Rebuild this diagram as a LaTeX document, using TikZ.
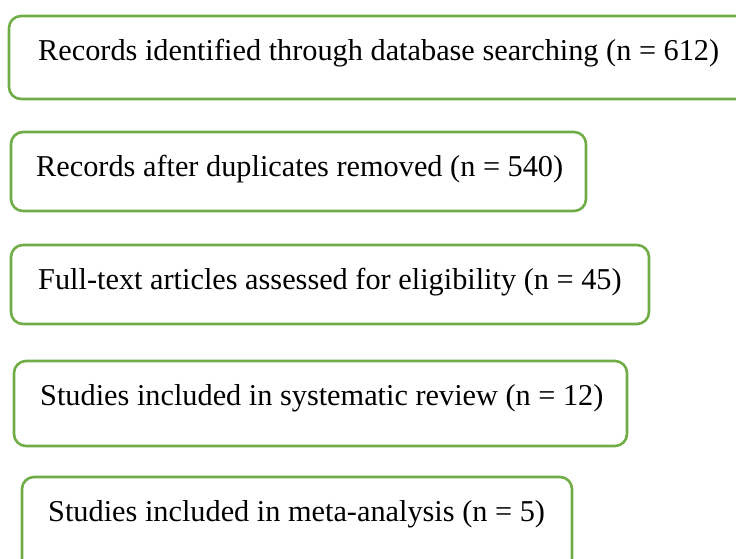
\documentclass[tikz,border=0pt]{standalone}
\usepackage{fontspec}
\setmainfont{Liberation Serif}
\definecolor{boxgreen}{HTML}{70AD47}
\tikzset{
  flowbox/.style={draw=boxgreen, line width=2.6pt, rounded corners=12pt, rectangle, inner sep=0pt, outer sep=0pt, anchor=north west},
  flowtext/.style={anchor=base west, inner sep=0pt, font=\fontsize{30.3}{36}\selectfont}
}
\begin{document}
\begin{tikzpicture}[x=1pt,y=-1pt]
\useasboundingbox (0,0) rectangle (736,558);
\begin{scope}
\clip (0,0) rectangle (736,558);
\node[flowbox, minimum width=751pt, minimum height=83pt] (b1) at (9,16) {};
\node[flowbox, minimum width=575pt, minimum height=79pt] (b2) at (11,132) {};
\node[flowbox, minimum width=638pt, minimum height=79pt] (b3) at (11,245) {};
\node[flowbox, minimum width=613pt, minimum height=85pt] (b4) at (14,361) {};
\node[flowbox, minimum width=550pt, minimum height=103pt] (b5) at (22,477) {};
\end{scope}
\node[flowtext] (t1) at (38,60) {Records identified through database searching (n = 612)};
\node[flowtext] (t2) at (36,176) {Records after duplicates removed (n = 540)};
\node[flowtext] (t3) at (38,289) {Full-text articles assessed for eligibility (n = 45)};
\node[flowtext] (t4) at (40,405) {Studies included in systematic review (n = 12)};
\node[flowtext] (t5) at (48,521) {Studies included in meta-analysis (n = 5)};
\end{tikzpicture}
\end{document}
